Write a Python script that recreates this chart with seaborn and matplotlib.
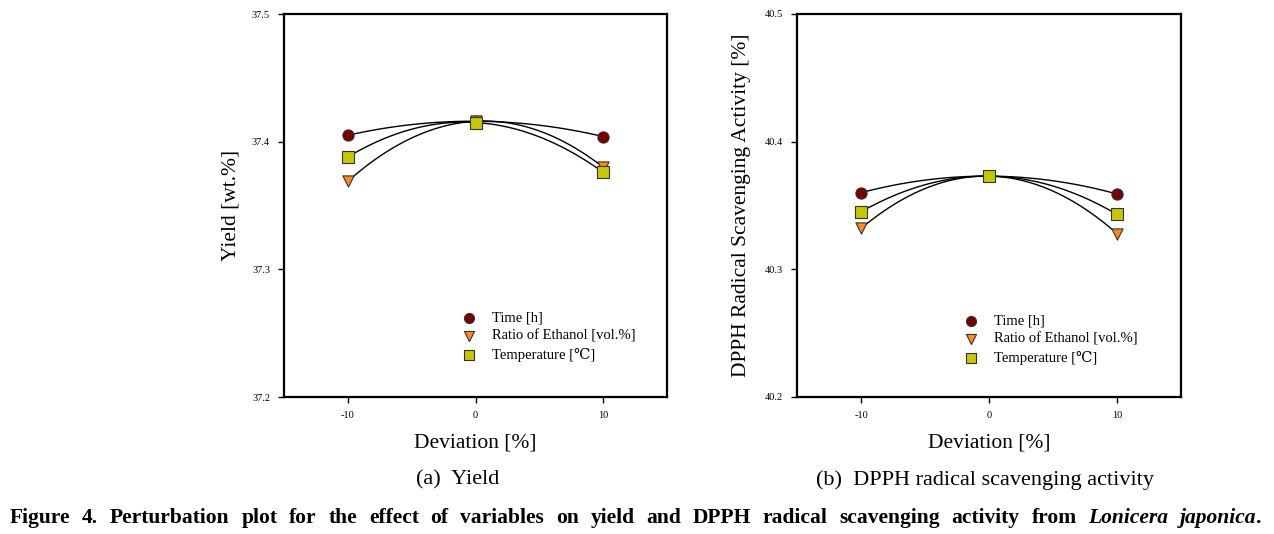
import numpy as np
import pandas as pd
import matplotlib
matplotlib.use("Agg")
import matplotlib.pyplot as plt
import seaborn as sns

sns.set_style("ticks")
plt.rcParams['font.family'] = ['Liberation Serif', 'DejaVu Serif', 'DejaVu Sans']
plt.rcParams['text.color'] = 'black'
plt.rcParams['axes.labelcolor'] = 'black'
plt.rcParams['xtick.color'] = 'black'
plt.rcParams['ytick.color'] = 'black'

# ---- data ----
deviation = [-10, 0, 10]
factors = ["Time [h]", "Ratio of Ethanol [vol.%]", "Temperature [\u2103]"]
yield_time = [37.405, 37.416, 37.404]
yield_ethanol = [37.369, 37.416, 37.380]
yield_temp = [37.388, 37.415, 37.376]
dpph_time = [40.360, 40.373, 40.359]
dpph_ethanol = [40.332, 40.373, 40.328]
dpph_temp = [40.345, 40.373, 40.343]
yield_ticks = [37.2, 37.3, 37.4, 37.5]
dpph_ticks = [40.2, 40.3, 40.4, 40.5]
x_ticks = [-10, 0, 10]

colors = {factors[0]: "#7a0000", factors[1]: "#ff8a1c", factors[2]: "#c8c800"}
markers = {factors[0]: "o", factors[1]: "v", factors[2]: "s"}

def make_df(series):
    rows = []
    for f, vals in zip(factors, series):
        for d, v in zip(deviation, vals):
            rows.append({"Deviation": d, "Value": v, "Factor": f})
    return pd.DataFrame(rows)

df_yield = make_df([yield_time, yield_ethanol, yield_temp])
df_dpph = make_df([dpph_time, dpph_ethanol, dpph_temp])

W, H = 1274, 534
fig = plt.figure(figsize=(W / 100, H / 100), dpi=100)
ax1 = fig.add_axes([284 / W, 1 - 397 / H, 383 / W, 383 / H])
ax2 = fig.add_axes([797 / W, 1 - 397 / H, 384 / W, 383 / H])

def draw(ax, df, ylim, yticks, ylabel, leg_anchor, ylabelpad):
    for f in factors:
        sub = df[df.Factor == f]
        sns.regplot(data=sub, x="Deviation", y="Value", order=2, ci=None,
                    scatter=False, truncate=True, ax=ax,
                    line_kws=dict(color="black", lw=1.0, zorder=2))
    for f in factors:
        sub = df[df.Factor == f]
        sns.scatterplot(data=sub, x="Deviation", y="Value", ax=ax,
                        color=colors[f], marker=markers[f], s=65,
                        edgecolor="#333333", linewidth=0.8, label=f, zorder=3)
    ax.set_xlim(-15, 15)
    ax.set_ylim(*ylim)
    ax.set_xticks(x_ticks)
    ax.set_xticklabels([str(t) for t in x_ticks])
    ax.set_yticks(yticks)
    ax.set_yticklabels([f"{t:.1f}" for t in yticks])
    ax.tick_params(direction="out", length=4, width=1, labelsize=7.5, colors="black", pad=6)
    for sp in ax.spines.values():
        sp.set_linewidth(1.6)
        sp.set_color("black")
        sp.set_visible(True)
    ax.set_xlabel("Deviation [%]", fontsize=15.5, labelpad=10)
    ax.set_ylabel(ylabel, fontsize=15.5, labelpad=ylabelpad)
    ax.legend(loc="upper left", bbox_to_anchor=leg_anchor, frameon=False,
              fontsize=10.5, handletextpad=0.6, labelspacing=0.32,
              markerscale=0.9, borderaxespad=0)

draw(ax1, df_yield, (37.2, 37.5), yield_ticks, "Yield [wt.%]", (0.43, 0.238), 8)
draw(ax2, df_dpph, (40.2, 40.5), dpph_ticks, "DPPH Radical Scavenging Activity [%]", (0.40, 0.230), 10)

fig.text(458 / W, 1 - 480 / H, "(a)  Yield", ha="center", va="center", fontsize=16)
fig.text(985 / W, 1 - 480 / H, "(b)  DPPH radical scavenging activity", ha="center", va="center", fontsize=16)

# justified caption, with italic species name
cap_words = ["Figure", "4.", "Perturbation", "plot", "for", "the", "effect", "of", "variables",
             "on", "yield", "and", "DPPH", "radical", "scavenging", "activity", "from",
             "Lonicera", "japonica"]
italic_words = {"Lonicera", "japonica"}
cap_y = 1 - 518 / H
cap_size = 15.5
renderer = fig.canvas.get_renderer()
texts = []
for w in cap_words:
    t = fig.text(0, cap_y, w, ha="left", va="center", fontsize=cap_size, fontweight="bold",
                 fontstyle="italic" if w in italic_words else "normal")
    texts.append(t)
dot = fig.text(0, cap_y, ".", ha="left", va="center", fontsize=cap_size, fontweight="bold")
widths = [t.get_window_extent(renderer=renderer).width for t in texts]
dot_w = dot.get_window_extent(renderer=renderer).width
left, right = 10, 1262
gap = (right - left - sum(widths) - dot_w) / (len(texts) - 1)
x = left
for t, w in zip(texts, widths):
    t.set_x(x / W)
    x += w + gap
dot.set_x((x - gap) / W)

fig.savefig("out.png", dpi=100)
